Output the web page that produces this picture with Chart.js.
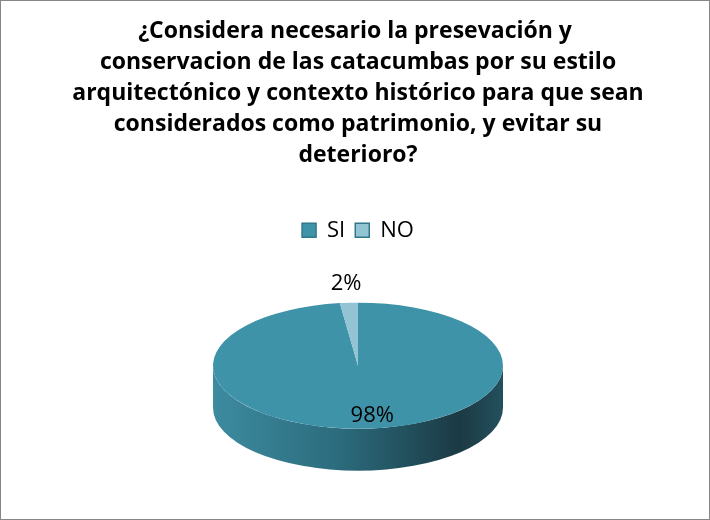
<!DOCTYPE html>
<html>
<head>
<meta charset="utf-8">
<script src="https://cdn.jsdelivr.net/npm/chart.js@4"></script>
<style>
  html, body { margin: 0; padding: 0; background: #fff; }
  #wrap { width: 710px; height: 520px; }
</style>
</head>
<body>
<div id="wrap"><canvas id="pieChart" width="710" height="520"></canvas></div>
<script>
const titleLines = [
    '¿Considera necesario la presevación y ',
    'conservacion de las catacumbas por su estilo',
    'arquitectónico y contexto histórico para que sean',
    'considerados como patrimonio, y evitar su',
    'deterioro?',
];
const labels = ['SI', 'NO'];
const values = [98, 2];

const sliceColors = ['#3f93a9', '#93c4d3'];
const RX = 145;
const RY = 63;
const DEPTH = 42;
const labelFactor = [0.8, 1.3];

// squash the round pie into an ellipse and give it a side wall
const pie3d = {
    id: 'pie3d',
    beforeDatasetsDraw(chart) {
        const ctx = chart.ctx;
        const arc = chart.getDatasetMeta(0).data[0];
        const cx = arc.x;
        const cy = arc.y;
        const r = arc.outerRadius;

        ctx.save();
        const grad = ctx.createLinearGradient(cx - RX, 0, cx + RX, 0);
        grad.addColorStop(0, '#3d8ba0');
        grad.addColorStop(0.45, '#2b6a7b');
        grad.addColorStop(0.85, '#1b3a44');
        grad.addColorStop(1, '#24505d');
        ctx.beginPath();
        ctx.ellipse(cx, cy, RX, RY, 0, 0, Math.PI, false);
        ctx.ellipse(cx, cy + DEPTH, RX, RY, 0, Math.PI, 0, true);
        ctx.closePath();
        ctx.fillStyle = grad;
        ctx.fill();
        ctx.restore();

        ctx.save();
        ctx.translate(cx, cy);
        ctx.scale(RX / r, RY / r);
        ctx.translate(-cx, -cy);
    },
    afterDatasetsDraw(chart) {
        const ctx = chart.ctx;
        ctx.restore();

        const meta = chart.getDatasetMeta(0);
        const total = values.reduce((a, b) => a + b, 0);
        ctx.save();
        ctx.font = '22px "Open Sans"';
        ctx.fillStyle = '#000';
        ctx.textAlign = 'center';
        ctx.textBaseline = 'middle';
        meta.data.forEach((arc, i) => {
            const mid = (arc.startAngle + arc.endAngle) / 2;
            const x = arc.x + RX * labelFactor[i] * Math.cos(mid) + (i === 0 ? 7 : 0);
            const y = arc.y + RY * labelFactor[i] * Math.sin(mid);
            ctx.fillText(Math.round(values[i] / total * 100) + '%', x, y);
        });
        ctx.restore();
    },
    beforeDraw(chart) {
        const ctx = chart.ctx;
        ctx.save();
        ctx.strokeStyle = '#868686';
        ctx.lineWidth = 1;
        ctx.strokeRect(0.5, 0.5, chart.width - 1, chart.height - 1);
        ctx.restore();
    },
};

new Chart(document.getElementById('pieChart'), {
    type: 'pie',
    data: {
        labels,
        datasets: [{
            data: values,
            backgroundColor: sliceColors,
            borderWidth: 0,
        }],
    },
    options: {
        responsive: false,
        animation: false,
        layout: {
            padding: { left: 6, right: 0, top: 0, bottom: 40 },
        },
        plugins: {
            title: {
                display: true,
                text: titleLines,
                color: '#000',
                font: { family: 'Open Sans', size: 23, weight: 'bold', lineHeight: 1.35 },
                padding: { top: 16, bottom: 38 },
            },
            legend: {
                position: 'top',
                labels: {
                    color: '#000',
                    boxWidth: 14,
                    boxHeight: 14,
                    padding: 10,
                    font: { family: 'Open Sans', size: 22 },
                    generateLabels: (chart) => {
                        const items = Chart.overrides.pie.plugins.legend.labels.generateLabels(chart);
                        items.forEach((item) => {
                            item.strokeStyle = '#31788c';
                            item.lineWidth = 1.5;
                        });
                        return items;
                    },
                },
            },
            tooltip: { enabled: false },
        },
    },
    plugins: [pie3d],
});
</script>
</body>
</html>
